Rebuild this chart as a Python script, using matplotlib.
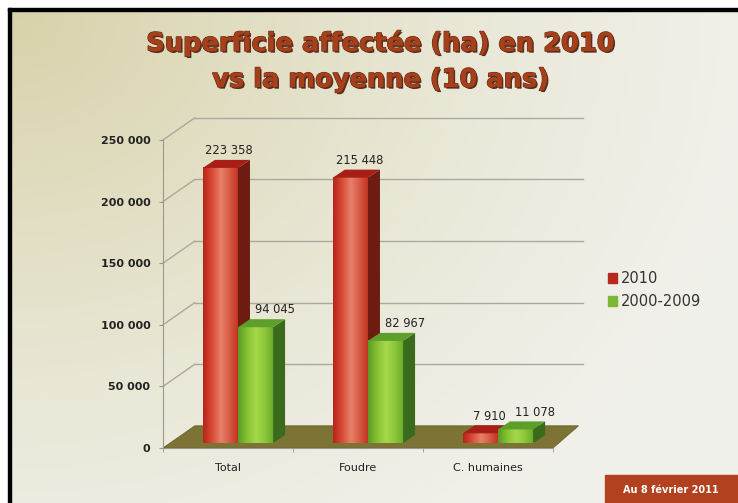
import numpy as np
import matplotlib
matplotlib.use("Agg")
import matplotlib.pyplot as plt
from matplotlib.patches import Polygon, Rectangle
from matplotlib.colors import LinearSegmentedColormap
import matplotlib.patheffects as pe

# data
categories = ["Total", "Foudre", "C. humaines"]
values_2010 = [223358, 215448, 7910]
values_avg = [94045, 82967, 11078]
labels_2010 = ["223 358", "215 448", "7 910"]
labels_avg = ["94 045", "82 967", "11 078"]
series = ["2010", "2000-2009"]
yticks = [0, 50000, 100000, 150000, 200000, 250000]
ytick_labels = ["0", "50 000", "100 000", "150 000", "200 000", "250 000"]

W, H = 738, 503
fig = plt.figure(figsize=(W / 100, H / 100), dpi=100)
fig.patch.set_facecolor("white")

# slide background
bg = fig.add_axes([0, 0, 1, 1], zorder=-5)
bg.set_xlim(0, W)
bg.set_ylim(H, 0)
bg.axis("off")
xx, yy = np.meshgrid(np.linspace(0, 1, 200), np.linspace(0, 1, 140))
d = np.clip(1 - np.sqrt((xx * 0.95) ** 2 + (yy * 0.75) ** 2), 0, 1)
c_light = np.array([0.945, 0.942, 0.918])
c_dark = np.array([0.845, 0.825, 0.665])
img = c_light + (c_dark - c_light) * (d[..., None] ** 1.3)
bg.imshow(img, extent=[10, W, H, 10], aspect="auto")
bg.add_patch(Rectangle((8, 8), 3, H, color="black"))
bg.add_patch(Rectangle((8, 8), W, 3, color="black"))
bg.add_patch(Rectangle((605, 475), W - 605, H - 475, color="#b2421f"))
bg.text(671, 490, "Au 8 février 2011", color="white", fontsize=7, fontweight="bold",
        ha="center", va="center")

title_fx = [pe.withSimplePatchShadow(offset=(1.2, -1.2), shadow_rgbFace="#3a1206", alpha=0.85),
            pe.withStroke(linewidth=1.0, foreground="#6a2810"), pe.Normal()]
bg.text(381, 43, "Superficie affectée (ha) en 2010", fontsize=18.5, fontweight="heavy",
        color="#a4401c", ha="center", va="center", family="DejaVu Sans", path_effects=title_fx)
bg.text(381, 80, "vs la moyenne (10 ans)", fontsize=18.5, fontweight="heavy",
        color="#a4401c", ha="center", va="center", family="DejaVu Sans", path_effects=title_fx)

# main axes
x0_px, y0_px = 163, 448
px_per_val = 308 / 250000
ymax = 275000
ax_w_px = 583 - x0_px
ax = fig.add_axes([x0_px / W, (H - y0_px) / H, ax_w_px / W, ymax * px_per_val / H])
ax.set_facecolor("none")
xmin, xmax = -0.5, -0.5 + ax_w_px / 130
ax.set_xlim(xmin, xmax)
ax.set_ylim(0, ymax)

wdx, wdy = 0.245, 18000   # wall depth
bdx, bdy = 0.092, 6500    # bar depth
sdx, sdy = 0.077, 4000    # bar position on floor
bw = 0.27

# back wall gridlines and left wall diagonals
for v in yticks[1:]:
    ax.plot([xmin + wdx, xmax], [v + wdy, v + wdy], color="#a9a9a0", lw=1.0, zorder=1, clip_on=False)
    ax.plot([xmin, xmin + wdx], [v, v + wdy], color="#a9a9a0", lw=1.0, zorder=1, clip_on=False)

# floor
floor = Polygon([(xmin, 0), (2.5, 0), (2.5 + wdx * 0.8, wdy), (xmin + wdx, wdy)],
                closed=True, facecolor="#7c7334", edgecolor="#6a6230", lw=0.6, zorder=2)
ax.add_patch(floor)

red_cmap = LinearSegmentedColormap.from_list("r", ["#b8241a", "#d84a36", "#e8806a", "#d65a44", "#c0301f"])
green_cmap = LinearSegmentedColormap.from_list("g", ["#5c9a24", "#86c232", "#a6d84a", "#8cc83a", "#6aa82a"])
grad = np.linspace(0, 1, 64).reshape(1, -1)


def draw_bar(xl, val, cmap, side, top, z):
    xb, yb = xl + sdx, sdy
    xr = xb + bw
    yt = yb + val
    im = ax.imshow(grad, cmap=cmap, extent=[xb, xr, yb, yt], aspect="auto", zorder=z)
    im.set_clip_on(False)
    ax.add_patch(Polygon([(xr, yb), (xr + bdx, yb + bdy), (xr + bdx, yt + bdy), (xr, yt)],
                         closed=True, facecolor=side, edgecolor="none", zorder=z))
    ax.add_patch(Polygon([(xb, yt), (xr, yt), (xr + bdx, yt + bdy), (xb + bdx, yt + bdy)],
                         closed=True, facecolor=top, edgecolor="none", zorder=z + 0.1))
    return (xb + xr) / 2 + bdx / 2, yt + bdy


for i, cat in enumerate(categories):
    z = 3 + i
    cx, cy = draw_bar(i - bw, values_2010[i], red_cmap, "#6e1c12", "#a81e16", z)
    ax.annotate(labels_2010[i], (cx, cy), xytext=(2, 2), textcoords="offset points",
                ha="center", va="bottom", fontsize=8.3, color="#222222", zorder=10)
    cx, cy = draw_bar(i, values_avg[i], green_cmap, "#3a6a1c", "#5e9e2a", z + 0.5)
    ax.annotate(labels_avg[i], (cx, cy), xytext=(10, 2), textcoords="offset points",
                ha="center", va="bottom", fontsize=8.3, color="#222222", zorder=10)

# axes styling
for s in ["top", "right"]:
    ax.spines[s].set_visible(False)
ax.spines["left"].set_bounds(0, 250000)
ax.spines["left"].set_color("#999990")
ax.spines["bottom"].set_bounds(xmin, 2.5)
ax.spines["bottom"].set_color("#999990")
ax.set_yticks(yticks)
ax.set_yticklabels(ytick_labels, fontsize=8, fontweight="bold", color="#222222")
ax.tick_params(axis="y", length=3, color="#999990", pad=6)
ax.set_xticks(range(len(categories)))
ax.set_xticklabels(categories, fontsize=8, color="#222222")
ax.set_xticks([-0.5, 0.5, 1.5, 2.5], minor=True)
ax.tick_params(axis="x", which="major", length=0, pad=11)
ax.tick_params(axis="x", which="minor", length=3, color="#999990")

handles = [Rectangle((0, 0), 1, 1, color="#b8281c"), Rectangle((0, 0), 1, 1, color="#7ab832")]
fig.legend(handles, series, loc="upper left", bbox_to_anchor=(595 / W, 1 - 258 / H),
           frameon=False, fontsize=10.5, handlelength=0.6, handleheight=0.6,
           handletextpad=0.3, labelspacing=0.55, labelcolor="#333333")

fig.savefig("out.png", dpi=100)
